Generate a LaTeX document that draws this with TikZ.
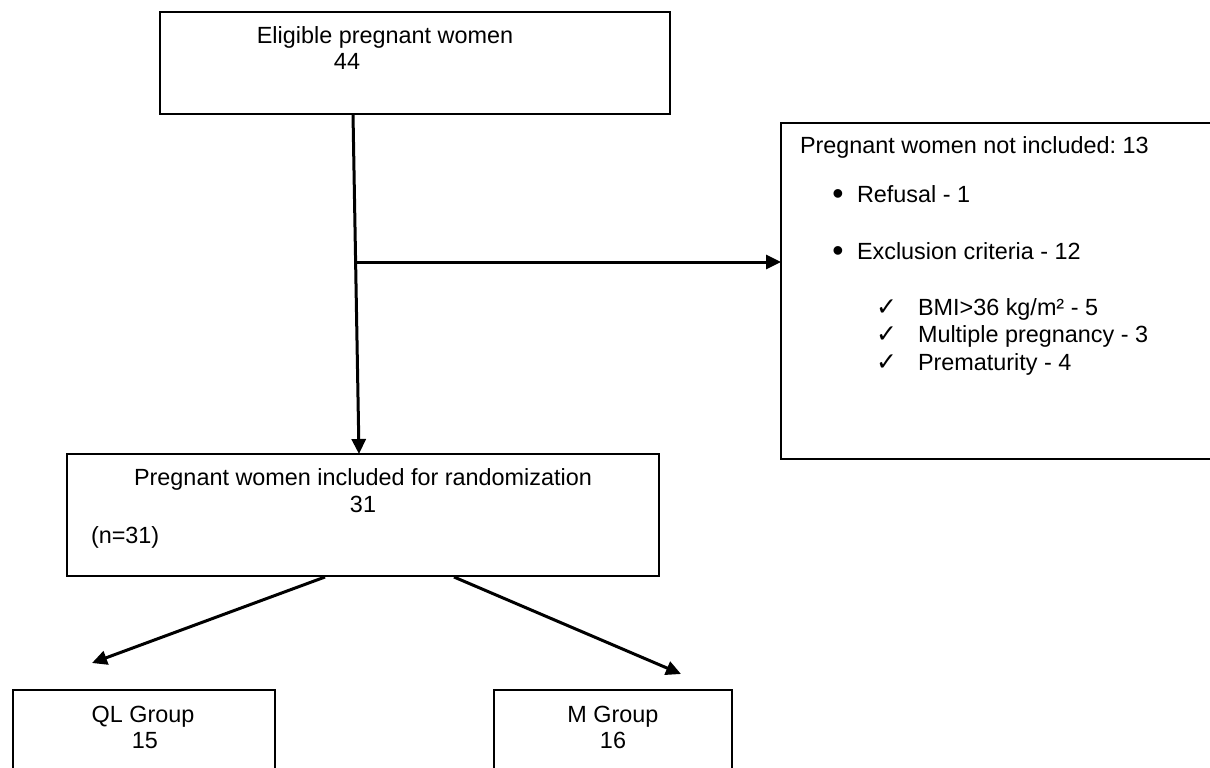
\documentclass[tikz,border=0pt]{standalone}
\usepackage{fontspec}
\setmainfont{Liberation Sans}
\newfontfamily\symfont{DejaVu Sans}
\usetikzlibrary{arrows.meta}
\frenchspacing
\begin{document}
\begin{tikzpicture}[x=1pt,y=-1pt,
  box/.style={draw=black,line width=2.4pt},
  arr/.style={draw=black,line width=3pt,-{Triangle[length=15pt,width=14pt]}},
  txt/.style={inner sep=0pt,outer sep=0pt,font=\fontsize{23.4}{27}\selectfont},
  lt/.style={txt,anchor=base west},
  ct/.style={txt,anchor=base},
  bul/.style={txt,anchor=base,font=\fontsize{32}{32}\selectfont},
  chk/.style={txt,anchor=base west,font=\symfont\fontsize{25}{27}\selectfont}]
\useasboundingbox (0,0) rectangle (1210,768);
\begin{scope}
\clip (0,0) rectangle (1210,768);
% boxes
\draw[box] (160,12) rectangle (670,114);
\draw[box] (781,123) rectangle (1240,459);
\draw[box] (67,454) rectangle (659,576);
\draw[box] (13,690) rectangle (275,800);
\draw[box] (494,690) rectangle (732,800);
\end{scope}
% nodes (text)
\node[ct] (elig) at (385,44) {Eligible pregnant women};
\node[ct] (eligN) at (347,70) {44};
\node[lt] (notinc) at (800,153) {Pregnant women not included: 13};
\node[bul] (b1) at (838,204) {•};
\node[lt] (ref) at (857,202) {Refusal - 1};
\node[bul] (b2) at (838,261) {•};
\node[lt] (excl) at (857,259) {Exclusion criteria - 12};
\node[chk] (c1) at (876,315) {✓};
\node[lt] (bmi) at (918,315) {BMI>36 kg/m² - 5};
\node[chk] (c2) at (876,342) {✓};
\node[lt] (mult) at (918,342) {Multiple pregnancy - 3};
\node[chk] (c3) at (876,370) {✓};
\node[lt] (prem) at (918,370) {Prematurity - 4};
\node[ct] (rand) at (363,485) {Pregnant women included for randomization};
\node[ct] (randN) at (363,512) {31};
\node[lt] (randn) at (91,543) {(n=31)};
\node[ct] (ql) at (143,722) {QL Group};
\node[ct] (qlN) at (145,748) {15};
\node[ct] (mg) at (613,722) {M Group};
\node[ct] (mgN) at (613,748) {16};
% connector coordinates
\coordinate (topout) at (353,114);
\coordinate (midin) at (359,454);
\coordinate (branch) at (357,262);
\coordinate (rightin) at (781,262);
\coordinate (midL) at (325,577);
\coordinate (qlin) at (92,663);
\coordinate (midR) at (454,577);
\coordinate (mgin) at (681,674);
\draw[arr] (topout) -- (midin);
\draw[arr] (branch) -- (rightin);
\draw[arr] (midL) -- (qlin);
\draw[arr] (midR) -- (mgin);
\end{tikzpicture}
\end{document}
